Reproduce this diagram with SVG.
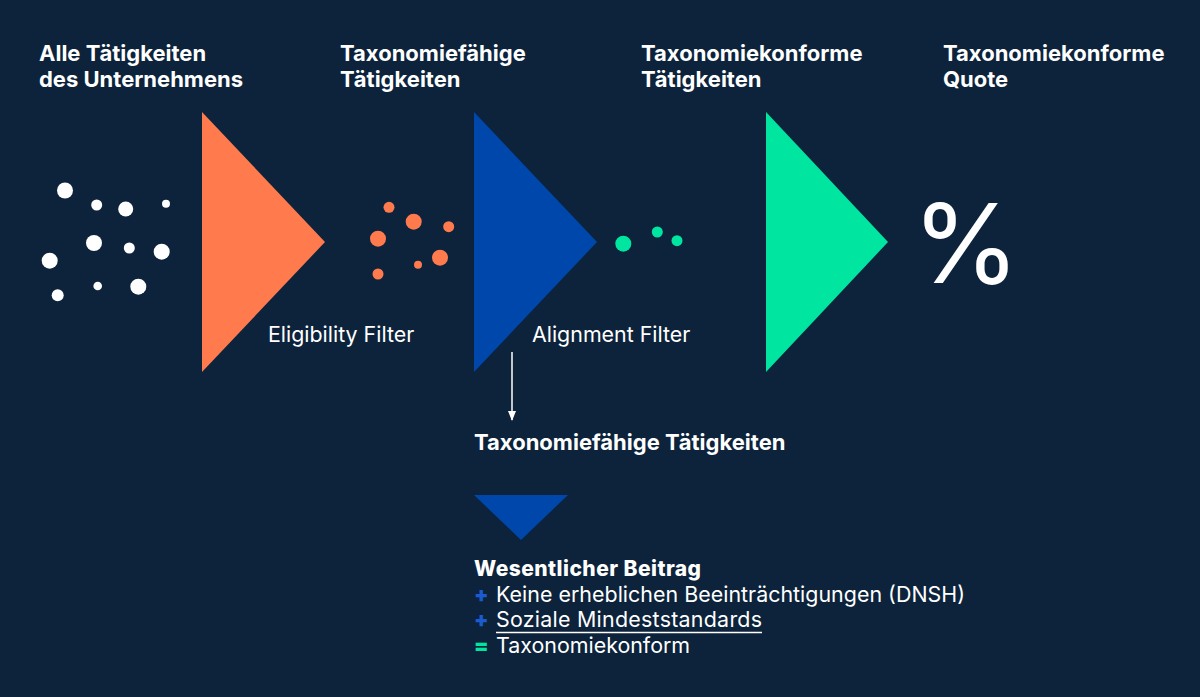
<svg xmlns="http://www.w3.org/2000/svg" width="1200" height="697" viewBox="0 0 1200 697">
<defs>
<style>
.h{font-family:Inter,"Liberation Sans",sans-serif;font-weight:700;font-size:22px;fill:#fff}
.r{font-family:Inter,"Liberation Sans",sans-serif;font-weight:400;font-size:21.4px;fill:#fff}
.s{font-family:Inter,"Liberation Sans",sans-serif;font-weight:900;font-size:21px}
.w{fill:#fff}.o{fill:#ff7a4d}.g{fill:#00e6a0}
</style>
<marker id="ah" markerWidth="10" markerHeight="8" refX="9" refY="4" orient="auto" markerUnits="userSpaceOnUse">
<path d="M0,0 L10,4 L0,8 Z" fill="#fff"/>
</marker>
</defs>
<rect width="1200" height="697" fill="#0c233b"/>
<g id="title1"><text class="h" x="39" y="61">Alle Tätigkeiten</text><text class="h" x="39" y="87">des Unternehmens</text></g>
<g id="title2"><text class="h" x="340" y="61">Taxonomiefähige</text><text class="h" x="340" y="87">Tätigkeiten</text></g>
<g id="title3"><text class="h" x="641" y="61">Taxonomiekonforme</text><text class="h" x="641" y="87">Tätigkeiten</text></g>
<g id="title4"><text class="h" x="943" y="61">Taxonomiekonforme</text><text class="h" x="943" y="87">Quote</text></g>
<g id="dots-all" class="w">
<circle cx="65" cy="190.5" r="8"/><circle cx="96.7" cy="205" r="5.5"/><circle cx="125.7" cy="209" r="7.5"/><circle cx="166" cy="203.7" r="4"/>
<circle cx="94" cy="243" r="8"/><circle cx="129.3" cy="248" r="5.5"/><circle cx="161.7" cy="251.7" r="8"/><circle cx="49.7" cy="260.7" r="8"/>
<circle cx="97.7" cy="286" r="4.3"/><circle cx="138.3" cy="286.7" r="8"/><circle cx="57.7" cy="295.3" r="6"/>
</g>
<g id="filter-eligibility"><polygon points="202,112 325,242 202,372" fill="#ff7a4d"/><text class="r" x="268" y="342">Eligibility Filter</text></g>
<g id="dots-eligible" class="o">
<circle cx="389" cy="207.3" r="5.5"/><circle cx="413.7" cy="221.7" r="8"/><circle cx="448.7" cy="226.7" r="5.5"/><circle cx="378" cy="238.7" r="8"/>
<circle cx="440" cy="257.7" r="8"/><circle cx="418" cy="264.7" r="4"/><circle cx="378" cy="274" r="5.5"/>
</g>
<g id="filter-alignment"><polygon points="474,112 597,242 474,372" fill="#0047ab"/><text class="r" x="532" y="342">Alignment Filter</text></g>
<g id="dots-aligned" class="g">
<circle cx="623.3" cy="243.7" r="8"/><circle cx="657.3" cy="232" r="5.5"/><circle cx="677" cy="240.7" r="5.5"/>
</g>
<g id="filter-green"><polygon points="766,112 888,242 766,372" fill="#00e6a0"/></g>
<g id="quote"><text x="966" y="283" text-anchor="middle" font-family="Inter,'Liberation Sans',sans-serif" font-size="110" font-weight="400" fill="#fff">%</text></g>
<g id="connectors"><line x1="512" y1="352" x2="512" y2="420" stroke="#fff" stroke-width="1.5" marker-end="url(#ah)"/></g>
<g id="eligible-label"><text class="h" x="474" y="450">Taxonomiefähige Tätigkeiten</text></g>
<g id="small-filter"><polygon points="474,495 568,495 521,540" fill="#0047ab"/></g>
<g id="criteria">
<text class="h" x="474" y="576" style="font-weight:800;font-size:21px" textLength="227" lengthAdjust="spacing">Wesentlicher Beitrag</text>
<text class="s" x="474" y="602" fill="#1a5bd0">+</text><text class="r" x="496" y="602" textLength="469" lengthAdjust="spacing">Keine erheblichen Beeinträchtigungen (DNSH)</text>
<text class="s" x="474" y="627" fill="#1a5bd0">+</text><text class="r" x="496" y="627" textLength="266" lengthAdjust="spacing">Soziale Mindeststandards</text>
<line x1="496" y1="632.5" x2="762" y2="632.5" stroke="#fff" stroke-width="1.5"/>
<text class="s" x="474" y="653" fill="#00e6a0">=</text><text class="r" x="496" y="653">Taxonomiekonform</text>
</g>
</svg>
